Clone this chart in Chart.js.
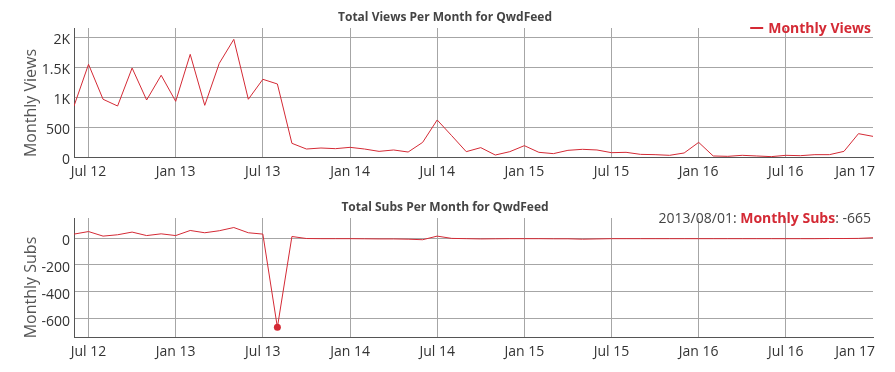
<!DOCTYPE html>
<html>
<head>
<meta charset="utf-8">
<script src="https://cdn.jsdelivr.net/npm/chart.js@4"></script>
<style>
  html, body { margin: 0; padding: 0; background: #fff; }
  #wrap { position: relative; width: 895px; height: 372px; }
  .box { position: absolute; left: 0; width: 895px; height: 186px; }
</style>
</head>
<body>
<div id="wrap">
  <div class="box" style="top:0"><canvas id="views"></canvas></div>
  <div class="box" style="top:186px"><canvas id="subs"></canvas></div>
</div>
<script>
// monthly points, Jun 2012 .. Jan 2017
const months = [
  "2012/06", "2012/07", "2012/08", "2012/09", "2012/10", "2012/11", "2012/12",
  "2013/01", "2013/02", "2013/03", "2013/04", "2013/05", "2013/06", "2013/07", "2013/08", "2013/09", "2013/10", "2013/11", "2013/12",
  "2014/01", "2014/02", "2014/03", "2014/04", "2014/05", "2014/06", "2014/07", "2014/08", "2014/09", "2014/10", "2014/11", "2014/12",
  "2015/01", "2015/02", "2015/03", "2015/04", "2015/05", "2015/06", "2015/07", "2015/08", "2015/09", "2015/10", "2015/11", "2015/12",
  "2016/01", "2016/02", "2016/03", "2016/04", "2016/05", "2016/06", "2016/07", "2016/08", "2016/09", "2016/10", "2016/11", "2016/12",
  "2017/01"
];
const monthlyViews = [
  850, 1545, 962, 850, 1483, 950, 1362,
  928, 1711, 861, 1561, 1961, 962, 1295, 1217, 228, 133, 150, 139,
  161, 133, 94, 117, 83, 244, 617, 355, 89, 156, 33, 89,
  189, 78, 56, 111, 128, 117, 72, 78, 44, 39, 28, 67,
  244, 17, 11, 28, 17, 6, 28, 22, 39, 39, 94, 389,
  344
];
const monthlySubs = [
  30, 49, 15, 25, 45, 19, 32,
  19, 57, 40, 55, 79, 40, 30, -665, 12, -3, -4, -4,
  -4, -5, -6, -6, -8, -12, 15, -2, -4, -6, -5, -4,
  -4, -4, -5, -5, -8, -6, -4, -4, -4, -4, -4, -4,
  -4, -4, -4, -4, -4, -4, -4, -4, -4, -3, -3, -2,
  3
];

const xTickIndex = [1, 7, 13, 19, 25, 31, 37, 43, 49, 55];
const xTickLabels = ["Jul 12", "Jan 13", "Jul 13", "Jan 14", "Jul 14", "Jan 15", "Jul 15", "Jan 16", "Jul 16", "Jan 17"];
const viewTicks = [0, 500, 1000, 1500, 2000];
const viewTickLabels = ["0", "500", "1K", "1.5K", "2K"];
const subTicks = [-600, -400, -200, 0];
const highlighted = 14; // 2013/08 point shown in the subs legend

const RED = "#d42a35";
const GRID = "#a6a6a6";
const FONT = '"Open Sans", "Noto Sans", sans-serif';

// titles, axis names, legends and the clamped x labels
const decor = {
  id: "decor",
  afterDraw(chart, args, opts) {
    const ctx = chart.ctx;
    const area = chart.chartArea;
    const xs = chart.scales.x;
    ctx.save();

    ctx.fillStyle = "#444";
    ctx.font = "bold 12px " + FONT;
    ctx.textAlign = "center";
    ctx.textBaseline = "alphabetic";
    ctx.fillText(opts.title, 445, opts.titleBase);

    // x tick labels
    ctx.font = "14px " + FONT;
    ctx.fillStyle = "#333";
    xTickIndex.forEach((m, i) => {
      let x = xs.getPixelForValue(m);
      const w = ctx.measureText(xTickLabels[i]).width;
      if (x + w / 2 > 875) x = 875 - w / 2;
      ctx.fillText(xTickLabels[i], x, area.bottom + 19);
    });

    // y axis name
    ctx.save();
    ctx.translate(35.5, opts.yNameMid);
    ctx.rotate(-Math.PI / 2);
    ctx.fillStyle = "#555";
    ctx.font = "16px " + FONT;
    ctx.fillText(opts.yName, 0, 0);
    ctx.restore();

    // legend, right aligned
    let x = 871;
    ctx.textAlign = "left";
    for (let k = opts.legend.length - 1; k >= 0; k--) {
      const part = opts.legend[k];
      ctx.font = (part.bold ? "bold " : "") + "14px " + FONT;
      const w = ctx.measureText(part.text).width;
      x -= w;
      ctx.fillStyle = part.color;
      ctx.fillText(part.text, x, opts.legendBase);
    }
    if (opts.dash) {
      ctx.fillStyle = RED;
      ctx.fillRect(x - 18, opts.legendBase - 6, 13, 2);
    }
    ctx.restore();
  }
};

function makeChart(id, values, yMin, yMax, yTicks, yLabels, pad, xHeight, decorOpts, pointIdx) {
  return new Chart(document.getElementById(id), {
    type: "line",
    data: {
      datasets: [{
        data: values.map((v, i) => ({ x: i, y: v })),
        borderColor: RED,
        backgroundColor: RED,
        borderWidth: 1,
        tension: 0,
        pointRadius: (c) => (c.dataIndex === pointIdx ? 3.5 : 0),
        pointBorderWidth: 0,
        fill: false
      }]
    },
    options: {
      responsive: true,
      maintainAspectRatio: false,
      animation: false,
      events: [],
      layout: { padding: { top: pad, right: 22, left: 0, bottom: 0 } },
      plugins: { legend: { display: false }, tooltip: { enabled: false }, decor: decorOpts },
      scales: {
        x: {
          type: "linear",
          min: 0,
          max: months.length - 1,
          afterBuildTicks: (s) => { s.ticks = xTickIndex.map((v) => ({ value: v })); },
          afterFit: (s) => { s.height = xHeight; },
          ticks: { display: false },
          grid: {
            color: (c) => (c.tick && c.tick.value === months.length - 1 ? "rgba(0,0,0,0)" : GRID),
            drawTicks: false
          },
          border: { color: "#555" }
        },
        y: {
          min: yMin,
          max: yMax,
          afterBuildTicks: (s) => { s.ticks = yTicks.map((v) => ({ value: v })); },
          afterFit: (s) => { s.width = 74; },
          ticks: {
            padding: 4,
            labelOffset: 3,
            color: "#333",
            font: { family: FONT, size: 14 },
            callback: (v) => yLabels[yTicks.indexOf(v)]
          },
          grid: { color: GRID, drawTicks: false },
          border: { color: "#555" }
        }
      }
    },
    plugins: [decor]
  });
}

makeChart("views", monthlyViews, 0, 2150, viewTicks, viewTickLabels, 28, 29, {
  title: "Total Views Per Month for QwdFeed",
  titleBase: 20.5,
  yName: "Monthly Views",
  yNameMid: 103,
  legendBase: 33,
  dash: true,
  legend: [{ text: "Monthly Views", bold: true, color: RED }]
}, -1);

makeChart("subs", monthlySubs, -737, 150, subTicks, subTicks.map(String), 32, 35, {
  title: "Total Subs Per Month for QwdFeed",
  titleBase: 24.7,
  yName: "Monthly Subs",
  yNameMid: 101.5,
  legendBase: 37.3,
  dash: false,
  legend: [
    { text: months[highlighted] + "/01: ", bold: false, color: "#444" },
    { text: "Monthly Subs", bold: true, color: RED },
    { text: ": " + monthlySubs[highlighted], bold: false, color: "#444" }
  ]
}, highlighted);
</script>
</body>
</html>
